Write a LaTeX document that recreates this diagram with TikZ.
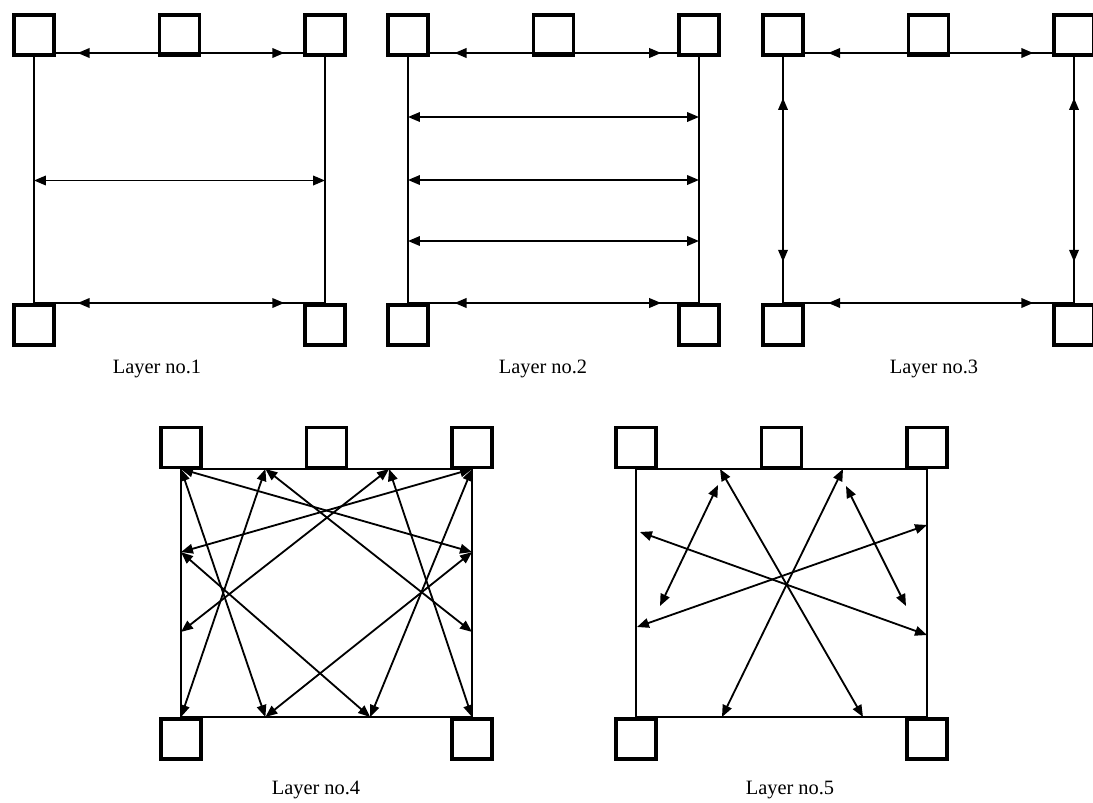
\documentclass[tikz,border=0pt]{standalone}
\usepackage{fontspec}
\setmainfont{Liberation Serif}
\usetikzlibrary{calc}
\usetikzlibrary{arrows.meta}
% frame of one layer: prefix, left x, top y, height, lift of the top boxes
\newcommand{\layerframe}[5]{%
  \begin{scope}[shift={(#2,#3)}]
    \coordinate (#1nw) at (0,0);
    \coordinate (#1ne) at (291,0);
    \coordinate (#1sw) at (0,#4);
    \coordinate (#1se) at (291,#4);
    \draw[wire] (#1nw) -- (#1ne) -- (#1se) -- (#1sw) -- cycle;
    \node[unit] (#1tl) at (0,-#5) {};
    \node[unit] (#1tm) at (145.5,-#5) {};
    \node[unit] (#1tr) at (291,-#5) {};
    \node[unit] (#1bl) at (0,#4+22) {};
    \node[unit] (#1br) at (291,#4+22) {};
  \end{scope}}

\begin{document}
\begin{tikzpicture}[x=0.025cm,y=-0.025cm,>={Triangle[length=8.5pt,width=6.8pt]},
		unit/.style={rectangle,draw=black,fill=white,line width=2.2pt,minimum size=1cm,inner sep=0pt},
		wire/.style={line width=1.3pt},
		link/.style={<->,line width=1.3pt},
		caption/.style={font=\fontsize{14.5}{17}\selectfont}]
		\useasboundingbox (0,0) rectangle (1093,803);
		\clip (0,0) rectangle (1093,803);

		% layer no.1
		\layerframe{A}{34}{53}{250}{18}
		\draw[link] ($(Anw)!0.15!(Ane)$) -- ($(Ane)!0.14!(Anw)$);
		\draw[link] ($(Anw)!0.51!(Asw)$) -- ($(Ane)!0.51!(Ase)$);
		\draw[link] ($(Asw)!0.15!(Ase)$) -- ($(Ase)!0.14!(Asw)$);
		\node[caption] (capA) at (157,369) {Layer no.1};

		% layer no.2
		\layerframe{B}{408}{53}{250}{18}
		\draw[link] ($(Bnw)!0.16!(Bne)$) -- ($(Bne)!0.13!(Bnw)$);
		\draw[link] ($(Bnw)!0.256!(Bsw)$) -- ($(Bne)!0.256!(Bse)$);
		\draw[link] ($(Bnw)!0.508!(Bsw)$) -- ($(Bne)!0.508!(Bse)$);
		\draw[link] ($(Bnw)!0.752!(Bsw)$) -- ($(Bne)!0.752!(Bse)$);
		\draw[link] ($(Bsw)!0.16!(Bse)$) -- ($(Bse)!0.13!(Bsw)$);
		\node[caption] (capB) at (543,369) {Layer no.2};

		% layer no.3
		\layerframe{C}{783}{53}{250}{18}
		\draw[link] ($(Cnw)!0.155!(Cne)$) -- ($(Cne)!0.14!(Cnw)$);
		\draw[link] ($(Csw)!0.155!(Cse)$) -- ($(Cse)!0.14!(Csw)$);
		\draw[link] ($(Cnw)!0.18!(Csw)$) -- ($(Csw)!0.165!(Cnw)$);
		\draw[link] ($(Cne)!0.18!(Cse)$) -- ($(Cse)!0.165!(Cne)$);
		\node[caption] (capC) at (934,369) {Layer no.3};

		% layer no.4
		\layerframe{D}{181}{469}{248}{21.5}
		\coordinate (Dt1) at ($(Dnw)!0.29!(Dne)$);
		\coordinate (Dt2) at ($(Dnw)!0.715!(Dne)$);
		\coordinate (Db1) at ($(Dsw)!0.29!(Dse)$);
		\coordinate (Db2) at ($(Dsw)!0.65!(Dse)$);
		\coordinate (Dl1) at ($(Dnw)!0.335!(Dsw)$);
		\coordinate (Dl2) at ($(Dnw)!0.657!(Dsw)$);
		\coordinate (Dr1) at ($(Dne)!0.335!(Dse)$);
		\coordinate (Dr2) at ($(Dne)!0.657!(Dse)$);
		\draw[link] (Dnw) -- (Db1);
		\draw[link] (Dt1) -- (Dsw);
		\draw[link] (Dt1) -- (Dr2);
		\draw[link] (Dnw) -- (Dr1);
		\draw[link] (Dne) -- (Dl1);
		\draw[link] (Dt2) -- (Dl2);
		\draw[link] (Dt2) -- (Dse);
		\draw[link] (Dne) -- (Db2);
		\draw[link] (Dl1) -- (Db2);
		\draw[link] (Dr1) -- (Db1);
		\node[caption] (capD) at (316,790) {Layer no.4};

		% layer no.5
		\layerframe{E}{636}{469}{248}{21.5}
		\coordinate (Ea1) at ($(Enw)+(84,0)$);
		\coordinate (Ea2) at ($(Enw)+(227,248)$);
		\coordinate (Eb1) at ($(Enw)+(207,0)$);
		\coordinate (Eb2) at ($(Enw)+(86,248)$);
		\coordinate (Ec1) at ($(Enw)+(82,16)$);
		\coordinate (Ec2) at ($(Enw)+(24,137)$);
		\coordinate (Ed1) at ($(Enw)+(210,17)$);
		\coordinate (Ed2) at ($(Enw)+(270,137)$);
		\coordinate (Ee1) at ($(Enw)+(4,63)$);
		\coordinate (Ee2) at ($(Enw)+(291,166)$);
		\coordinate (Ef1) at ($(Enw)+(291,56)$);
		\coordinate (Ef2) at ($(Enw)+(1,158)$);
		\draw[link] (Ea1) -- (Ea2);
		\draw[link] (Eb1) -- (Eb2);
		\draw[link] (Ec1) -- (Ec2);
		\draw[link] (Ed1) -- (Ed2);
		\draw[link] (Ee1) -- (Ee2);
		\draw[link] (Ef1) -- (Ef2);
		\node[caption] (capE) at (790,790) {Layer no.5};
\end{tikzpicture}
\end{document}
